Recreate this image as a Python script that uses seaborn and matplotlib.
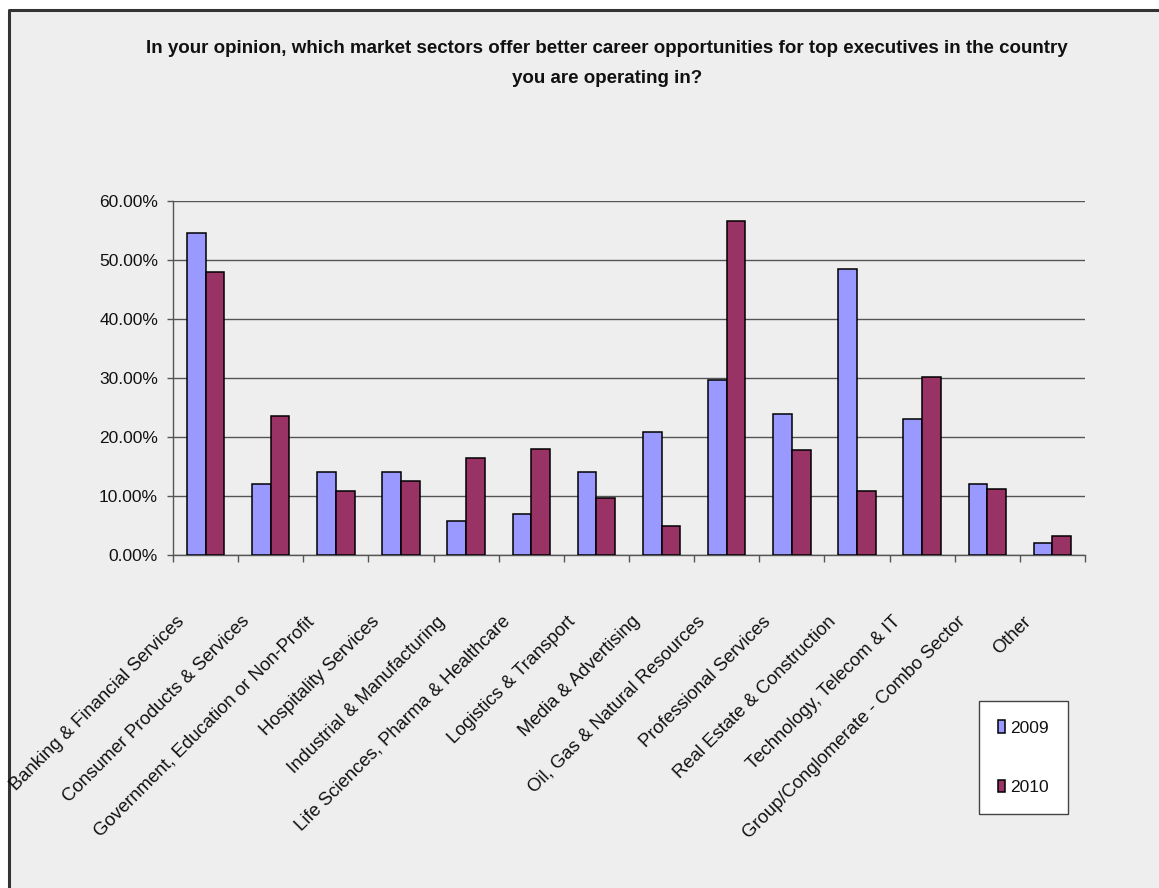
import matplotlib
matplotlib.use("Agg")
import matplotlib.pyplot as plt
from matplotlib.ticker import PercentFormatter, FixedLocator
from matplotlib.transforms import ScaledTranslation
from matplotlib.patches import Rectangle
import seaborn as sns
import pandas as pd

# Survey data: share of respondents choosing each sector
sectors = [
    "Banking & Financial Services",
    "Consumer Products & Services",
    "Government, Education or Non-Profit",
    "Hospitality Services",
    "Industrial & Manufacturing",
    "Life Sciences, Pharma & Healthcare",
    "Logistics & Transport",
    "Media & Advertising",
    "Oil, Gas & Natural Resources",
    "Professional Services",
    "Real Estate & Construction",
    "Technology, Telecom & IT",
    "Group/Conglomerate - Combo Sector",
    "Other",
]
share_2009 = [54.5, 12.0, 14.0, 14.0, 5.8, 7.0, 14.0, 20.9, 29.7, 23.8, 48.5, 23.0, 12.0, 2.0]
share_2010 = [47.9, 23.5, 10.8, 12.5, 16.5, 18.0, 9.6, 4.9, 56.6, 17.7, 10.8, 30.2, 11.1, 3.2]
years = ["2009", "2010"]
y_ticks = [0, 10, 20, 30, 40, 50, 60]

title_text = ("In your opinion, which market sectors offer better career opportunities for top executives in the country\n"
              "you are operating in?")

df = pd.DataFrame({
    "Sector": sectors * 2,
    "Year": [years[0]] * len(sectors) + [years[1]] * len(sectors),
    "Share": share_2009 + share_2010,
})

sns.set_theme(style="white")
plt.rcParams["font.family"] = ["Liberation Sans", "DejaVu Sans"]

W, H, DPI = 1159, 888, 100
PX = 72 / DPI  # points per pixel
bg = "#EEEEEE"
fig = plt.figure(figsize=(W / DPI, H / DPI), dpi=DPI, facecolor="white")

# chart area background with a dark frame on the top and left edges
fig.patches.append(Rectangle((8 / W, 0), 1 - 8 / W, 1 - 10 / H, transform=fig.transFigure,
                             facecolor=bg, edgecolor="none", zorder=-3))
fig.lines.append(plt.Line2D([8.5 / W, 8.5 / W, 1.0], [0, 1 - 10.5 / H, 1 - 10.5 / H],
                            transform=fig.transFigure, color="#333333", lw=2.2, zorder=-2))

left, right, top, bottom = 173, 1085, 200.7, 555
ax = fig.add_axes([left / W, 1 - bottom / H, (right - left) / W, (bottom - top) / H])
ax.set_facecolor(bg)

palette = {"2009": "#9999FF", "2010": "#993366"}
sns.barplot(data=df, x="Sector", y="Share", hue="Year", palette=palette, order=sectors,
            hue_order=years, width=0.575, edgecolor="black", linewidth=1.1, saturation=1,
            ax=ax, zorder=3)

ax.set_ylim(0, 60)
ax.set_xlim(-0.5, len(sectors) - 0.5)
ax.yaxis.set_major_locator(FixedLocator(y_ticks))
ax.yaxis.set_major_formatter(PercentFormatter(decimals=2))
ax.grid(axis="y", color="#555555", lw=1.0, zorder=0)
ax.set_axisbelow(True)
ax.set_xlabel("")
ax.set_ylabel("")

for side in ["top", "right"]:
    ax.spines[side].set_visible(False)
for side in ["left", "bottom"]:
    ax.spines[side].set_color("#555555")
    ax.spines[side].set_linewidth(1.0)

ax.tick_params(axis="y", which="major", direction="out", length=6 * PX, width=1, color="#555555",
               pad=9 * PX, labelsize=12.5, labelcolor="#111111", left=True)

# category boundaries carry the tick marks; labels sit at the centres
ax.set_xticks(range(len(sectors)))
ax.set_xticks([i - 0.5 for i in range(len(sectors) + 1)], minor=True)
ax.tick_params(axis="x", which="minor", direction="out", length=7 * PX, width=1, color="#555555", bottom=True)
ax.tick_params(axis="x", which="major", length=0, pad=64 * PX)
ax.set_xticklabels(sectors, rotation=45, ha="right", va="center", rotation_mode="anchor",
                   fontsize=13.3, color="#111111")
shift = ScaledTranslation(-24 / DPI, 0, fig.dpi_scale_trans)
for lab in ax.get_xticklabels():
    lab.set_transform(lab.get_transform() + shift)

handles, labels = ax.get_legend_handles_labels()
leg = ax.legend(handles, labels, loc="upper left", bbox_to_anchor=(979 / W, 1 - 701 / H),
                bbox_transform=fig.transFigure, borderaxespad=0, frameon=True, fancybox=False,
                fontsize=12.5, handlelength=0.42, handleheight=0.75, handletextpad=0.3,
                labelspacing=2.55, borderpad=1.1)
leg.get_frame().set_facecolor("white")
leg.get_frame().set_edgecolor("#444444")
leg.get_frame().set_linewidth(1.0)
leg.get_frame().set_alpha(1)
for t in leg.get_texts():
    t.set_color("#111111")

fig.text(607 / W, 1 - 63.5 / H, title_text, ha="center", va="center", fontsize=13.5,
         fontweight="bold", linespacing=1.95, color="#111111")

fig.savefig("out.png", dpi=DPI, facecolor="white")
